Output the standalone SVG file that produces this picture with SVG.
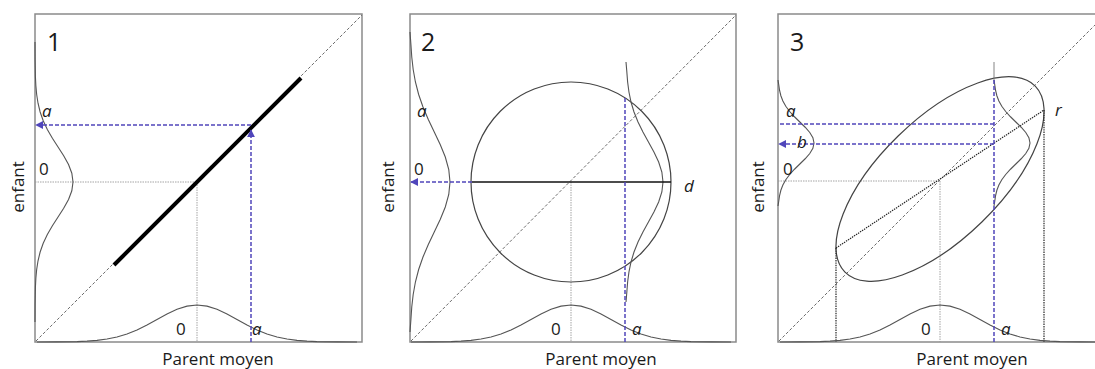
<svg xmlns="http://www.w3.org/2000/svg" xmlns:xlink="http://www.w3.org/1999/xlink" width="1095" height="369" viewBox="0 0 1095 369">
<style>
.box{fill:#fff;stroke:#8a8a8a;stroke-width:1.5}
.diag{fill:none;stroke:#5a5a5a;stroke-width:0.9;stroke-dasharray:3 2}
.guide{fill:none;stroke:#9a9a9a;stroke-width:0.9;stroke-dasharray:1.5 1}
.bdot{fill:none;stroke:#222;stroke-width:1.2;stroke-dasharray:1.4 1}
.blue{fill:none;stroke:#5046bb;stroke-width:1.5;stroke-dasharray:4 2}
.curve{fill:none;stroke:#555;stroke-width:1.1}
.thin{fill:none;stroke:#777;stroke-width:0.9}
.txt{font-family:"Open Sans","Liberation Sans",sans-serif;fill:#1a1a1a}
.lab{font-size:17px}
.it{font-style:italic}
.num{font-size:25px}
.ax{font-size:17px;text-anchor:middle}
</style>
<defs>
<marker id="ah" viewBox="0 0 10 10" refX="9" refY="5" markerWidth="8" markerHeight="8" markerUnits="userSpaceOnUse" orient="auto">
<path d="M0,0 L10,5 L0,10 z" fill="#5046bb"/>
</marker>
<path id="g4" vector-effect="non-scaling-stroke" d="M-4 0 L-3.5 -0.0022 L-3 -0.0111 L-2.75 -0.0228 L-2.5 -0.0439 L-2.25 -0.0796 L-2 -0.1353 L-1.75 -0.2163 L-1.5 -0.3247 L-1.25 -0.4578 L-1 -0.6065 L-0.75 -0.7548 L-0.5 -0.8825 L-0.25 -0.9692 L0 -1 L0.25 -0.9692 L0.5 -0.8825 L0.75 -0.7548 L1 -0.6065 L1.25 -0.4578 L1.5 -0.3247 L1.75 -0.2163 L2 -0.1353 L2.25 -0.0796 L2.5 -0.0439 L2.75 -0.0228 L3 -0.0111 L3.5 -0.0022 L4 0"/>
<path id="g3" vector-effect="non-scaling-stroke" d="M-3 0 L-2.75 -0.0228 L-2.5 -0.0439 L-2.25 -0.0796 L-2 -0.1353 L-1.75 -0.2163 L-1.5 -0.3247 L-1.25 -0.4578 L-1 -0.6065 L-0.75 -0.7548 L-0.5 -0.8825 L-0.25 -0.9692 L0 -1 L0.25 -0.9692 L0.5 -0.8825 L0.75 -0.7548 L1 -0.6065 L1.25 -0.4578 L1.5 -0.3247 L1.75 -0.2163 L2 -0.1353 L2.25 -0.0796 L2.5 -0.0439 L2.75 -0.0228 L3 0"/>
</defs>
<rect width="1095" height="369" fill="#fff"/>

<g id="panel1">
<rect class="box" x="35" y="14" width="327" height="328"/>
<line class="diag" x1="36" y1="341" x2="362" y2="15"/>
<line class="guide" x1="35" y1="182" x2="197" y2="182"/>
<line class="guide" x1="197" y1="182" x2="197" y2="342"/>
<use href="#g4" class="curve" transform="translate(197,342) scale(40,37)"/>
<use href="#g4" class="curve" transform="translate(35,182) rotate(90) scale(35,38)"/>
<line x1="114" y1="265" x2="301" y2="78" stroke="#000" stroke-width="4"/>
<g id="p1-connectors">
<path class="blue" d="M251 342 V130" marker-end="url(#ah)"/>
<path class="blue" d="M251 125 H36" marker-end="url(#ah)"/>
</g>
<text class="txt num" x="47" y="51">1</text>
<text class="txt lab it" x="42" y="117">a</text>
<text class="txt lab" x="39" y="175">0</text>
<text class="txt lab" x="176" y="335">0</text>
<text class="txt lab it" x="252" y="335">a</text>
<text class="txt ax" transform="translate(24,187) rotate(-90)">enfant</text>
<text class="txt ax" x="218" y="365">Parent moyen</text>
</g>

<g id="panel2">
<rect class="box" x="410" y="14" width="326" height="328"/>
<line class="diag" x1="411" y1="341" x2="736" y2="15"/>
<line class="guide" x1="571" y1="182" x2="571" y2="342"/>
<circle cx="571" cy="182" r="100" fill="none" stroke="#444" stroke-width="1.2"/>
<use href="#g4" class="curve" transform="translate(571,342) scale(40,37)"/>
<use href="#g3" class="curve" transform="translate(410,182) rotate(90) scale(50,40)"/>
<use href="#g3" class="curve" transform="translate(626,182) rotate(90) scale(40,37)"/>
<line x1="472" y1="182" x2="671" y2="182" stroke="#111" stroke-width="1.3"/>
<g id="p2-connectors">
<path class="blue" d="M472 182 H411" marker-end="url(#ah)"/>
<path class="blue" d="M625 342 V98"/>
</g>
<text class="txt num" x="421" y="51">2</text>
<text class="txt lab it" x="417" y="117">a</text>
<text class="txt lab" x="414" y="175">0</text>
<text class="txt lab it" x="684" y="192">d</text>
<text class="txt lab" x="551" y="335">0</text>
<text class="txt lab it" x="632" y="335">a</text>
<text class="txt ax" transform="translate(394,187) rotate(-90)">enfant</text>
<text class="txt ax" x="601" y="365">Parent moyen</text>
</g>

<g id="panel3">
<rect class="box" x="778" y="14" width="327" height="328"/>
<line class="diag" x1="779" y1="341" x2="1105" y2="15"/>
<line class="guide" x1="778" y1="181" x2="940" y2="181"/>
<line class="guide" x1="940" y1="181" x2="940" y2="342"/>
<ellipse cx="940" cy="179" rx="133" ry="60" fill="none" stroke="#444" stroke-width="1.2" transform="rotate(-44.25 940 179)"/>
<line class="bdot" x1="836" y1="248" x2="1044" y2="110"/>
<line class="bdot" x1="836" y1="248" x2="836" y2="342"/>
<line class="bdot" x1="1044" y1="110" x2="1044" y2="342"/>
<use href="#g4" class="curve" transform="translate(940,342) scale(40,37)"/>
<use href="#g3" class="curve" transform="translate(778,143) rotate(90) scale(21,36)"/>
<line class="thin" x1="994" y1="62" x2="994" y2="80"/>
<use href="#g3" class="curve" transform="translate(994,143) rotate(90) scale(21,36)"/>
<g id="p3-connectors">
<path class="blue" d="M994 342 V80"/>
<path class="blue" d="M994 124 H779"/>
<path class="blue" d="M994 144 H779" marker-end="url(#ah)"/>
</g>
<text class="txt num" x="790" y="51">3</text>
<text class="txt lab it" x="786" y="117">a</text>
<text class="txt lab it" x="797" y="148">b</text>
<text class="txt lab" x="783" y="175">0</text>
<text class="txt lab it" x="1055" y="116">r</text>
<text class="txt lab" x="921" y="335">0</text>
<text class="txt lab it" x="1001" y="335">a</text>
<text class="txt ax" transform="translate(764,187) rotate(-90)">enfant</text>
<text class="txt ax" x="972" y="365">Parent moyen</text>
</g>
</svg>
